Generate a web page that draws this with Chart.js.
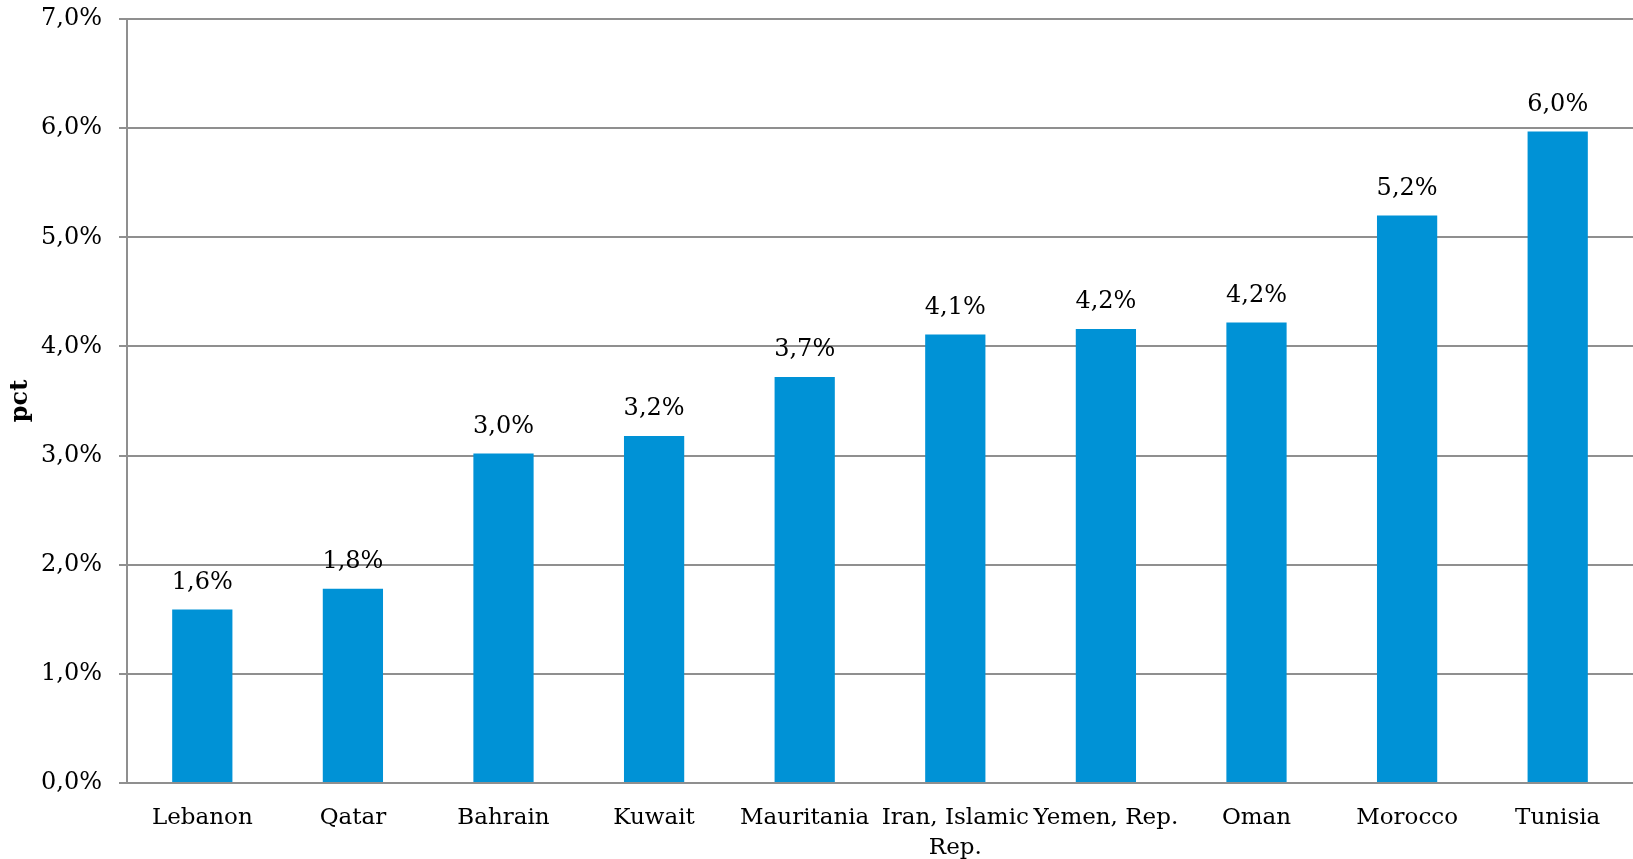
<!DOCTYPE html>
<html>
<head>
<meta charset="utf-8">
<script src="https://cdn.jsdelivr.net/npm/chart.js@4/dist/chart.umd.min.js"></script>
<style>
html,body{margin:0;padding:0;background:#fff;}
#wrap{width:1633px;height:859px;}
</style>
</head>
<body>
<div id="wrap"><canvas id="c" width="1633" height="859"></canvas></div>
<script>
const categories = ['Lebanon', 'Qatar', 'Bahrain', 'Kuwait', 'Mauritania', ['Iran, Islamic', 'Rep.'], 'Yemen, Rep.', 'Oman', 'Morocco', 'Tunisia'];
const values = [1.59, 1.78, 3.02, 3.18, 3.72, 4.11, 4.16, 4.22, 5.20, 5.97];
const yTicks = { min: 0, max: 7, step: 1 };
const axisTitle = 'pct';

const FONT = "'DejaVu Serif', Georgia, serif";
const fmt = v => v.toFixed(1).replace('.', ',') + '%';

const dataLabels = {
  id: 'dataLabels',
  afterDatasetsDraw(chart) {
    const ctx = chart.ctx;
    const meta = chart.getDatasetMeta(0);
    ctx.save();
    ctx.font = '24px ' + FONT;
    ctx.fillStyle = '#000';
    ctx.textAlign = 'center';
    ctx.textBaseline = 'middle';
    meta.data.forEach((bar, i) => {
      ctx.fillText(fmt(values[i]), bar.x, bar.y - 27);
    });
    ctx.restore();
  }
};

new Chart(document.getElementById('c'), {
  type: 'bar',
  data: {
    labels: categories,
    datasets: [{
      data: values,
      backgroundColor: '#0092d6',
      borderWidth: 0,
      barPercentage: 0.4,
      categoryPercentage: 1.0
    }]
  },
  options: {
    responsive: false,
    animation: false,
    devicePixelRatio: 1,
    layout: { padding: { top: 0, right: 0, left: 0, bottom: 0 } },
    plugins: { legend: { display: false }, tooltip: { enabled: false } },
    scales: {
      x: {
        grid: { display: false, drawTicks: false },
        border: { display: true, color: '#8f8f8f', width: 2 },
        ticks: {
          color: '#000',
          font: { family: FONT, size: 23, lineHeight: 1.3 },
          padding: 20,
          maxRotation: 0,
          autoSkip: false
        },
        afterFit: s => { s.height = 76; s.paddingLeft = 0; s.paddingRight = 0; }
      },
      y: {
        min: yTicks.min,
        max: yTicks.max,
        grid: { color: '#8f8f8f', lineWidth: 2, tickLength: 8 },
        border: { display: true, color: '#8f8f8f', width: 2 },
        ticks: {
          stepSize: yTicks.step,
          color: '#000',
          font: { family: FONT, size: 24 },
          padding: 17,
          callback: v => fmt(v)
        },
        title: {
          display: true,
          text: axisTitle,
          color: '#000',
          font: { family: FONT, size: 24, weight: 'bold' },
          padding: { top: 6, bottom: 0 }
        },
        afterFit: s => { s.width = 127; s.paddingTop = 19; s.paddingBottom = 0; }
      }
    }
  },
  plugins: [dataLabels]
});
</script>
</body>
</html>
